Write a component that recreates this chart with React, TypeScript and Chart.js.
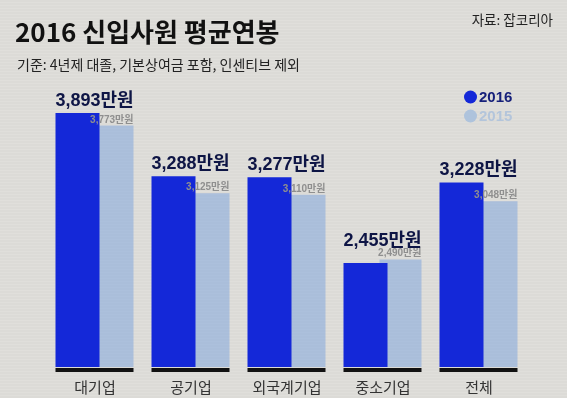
import React, { useEffect, useRef } from "react";
import { Chart, registerables } from "chart.js";

Chart.register(...registerables);

const categories = ["대기업", "공기업", "외국계기업", "중소기업", "전체"];
const values2016 = [3893, 3288, 3277, 2455, 3228];
const values2015 = [3773, 3125, 3110, 2490, 3048];
const seriesLabels = ["2016", "2015"];
const titleText = "2016 신입사원 평균연봉";
const subtitleText = "기준: 4년제 대졸, 기본상여금 포함, 인센티브 제외";
const sourceText = "자료: 잡코리아";
const unit = "만원";

const C2016 = "#1428d8";
const C2015 = "rgba(120,162,222,0.5)";
const C2015_SOLID = "#aec3dc";
const KR = "'Noto Sans CJK KR', 'Noto Sans', sans-serif";
const NUM = "'Liberation Sans', 'Noto Sans CJK KR', sans-serif";

const fmt = (v: number) => v.toLocaleString("en-US") + unit;

const overlayPlugin = {
  id: "overlay",
  beforeDraw(chart: any) {
    const ctx = chart.ctx;
    ctx.save();
    ctx.textBaseline = "alphabetic";
    ctx.fillStyle = "#111";
    ctx.textAlign = "left";
    ctx.font = `bold 26px ${KR}`;
    ctx.fillText(titleText, 15, 42);
    ctx.font = `400 14px ${KR}`;
    ctx.fillStyle = "#222";
    ctx.fillText(subtitleText, 17, 70);
    ctx.textAlign = "right";
    ctx.font = `400 13.5px ${KR}`;
    ctx.fillText(sourceText, 553, 25);
    ctx.restore();
  },
  afterDatasetsDraw(chart: any) {
    const ctx = chart.ctx;
    const m0 = chart.getDatasetMeta(0);
    const m1 = chart.getDatasetMeta(1);
    const area = chart.chartArea;
    const xScale = chart.scales.x;
    ctx.save();
    m0.data.forEach((b0: any, i: number) => {
      const b1: any = m1.data[i];
      const left = b0.x - b0.width / 2;
      const right = b1.x + b1.width / 2;
      ctx.fillStyle = "#111";
      ctx.fillRect(left, area.bottom + 1, right - left, 4);

      // category label
      ctx.textBaseline = "alphabetic";
      ctx.font = `400 15px ${KR}`;
      ctx.fillStyle = "#333";
      ctx.textAlign = "center";
      ctx.fillText(categories[i], xScale.getPixelForValue(i), area.bottom + 26);

      ctx.font = `bold 10px ${NUM}`;
      ctx.fillStyle = "#8f8f8f";
      ctx.textAlign = "right";
      const y15 = b1.y - 3;
      ctx.fillText(fmt(values2015[i]), right, y15);

      const y16 = Math.min(b0.y - 7, y15 - 10);
      ctx.font = `bold 18px ${NUM}`;
      ctx.fillStyle = "#0e1545";
      ctx.textAlign = "center";
      ctx.fillText(fmt(values2016[i]), (left + right) / 2, y16);
    });

    // legend
    const lx = 470.5;
    const items = [
      { label: seriesLabels[0], dot: C2016, text: "#16207a", y: 97 },
      { label: seriesLabels[1], dot: C2015_SOLID, text: "#b3c5db", y: 116 },
    ];
    items.forEach((it) => {
      ctx.beginPath();
      ctx.arc(lx, it.y, 6.5, 0, Math.PI * 2);
      ctx.fillStyle = it.dot;
      ctx.fill();
      ctx.font = `bold 15px ${NUM}`;
      ctx.fillStyle = it.text;
      ctx.textAlign = "left";
      ctx.textBaseline = "middle";
      ctx.fillText(it.label, 479, it.y + 0.5);
    });
    ctx.restore();
  },
};

export default function App() {
  const ref = useRef<HTMLCanvasElement | null>(null);

  useEffect(() => {
    document.body.style.margin = "0";
    if (!ref.current) return;
    const chart = new Chart(ref.current, {
      type: "bar",
      data: {
        labels: categories,
        datasets: [
          {
            label: seriesLabels[0],
            data: values2016,
            backgroundColor: C2016,
            barPercentage: 44 / 35,
            categoryPercentage: 70 / 96,
          },
          {
            label: seriesLabels[1],
            data: values2015,
            backgroundColor: C2015,
            barPercentage: 42 / 35,
            categoryPercentage: 70 / 96,
          },
        ],
      },
      options: {
        animation: false,
        responsive: true,
        maintainAspectRatio: false,
        layout: { padding: { left: 47, right: 40, top: 80, bottom: 31 } },
        scales: {
          x: {
            display: false,
            offset: true,
          },
          y: {
            display: false,
            min: 1458,
            max: 4210,
          },
        },
        plugins: {
          legend: { display: false },
          tooltip: { enabled: false },
        },
      },
      plugins: [overlayPlugin],
    });
    return () => chart.destroy();
  }, []);

  return (
    <div
      style={{
        position: "relative",
        width: 567,
        height: 398,
        background:
          "repeating-linear-gradient(0deg, #dcdbd7 0px, #dcdbd7 2px, #e0dfdb 2px, #e0dfdb 3px)",
      }}
    >
      <canvas ref={ref} style={{ display: "block" }} />
    </div>
  );
}
